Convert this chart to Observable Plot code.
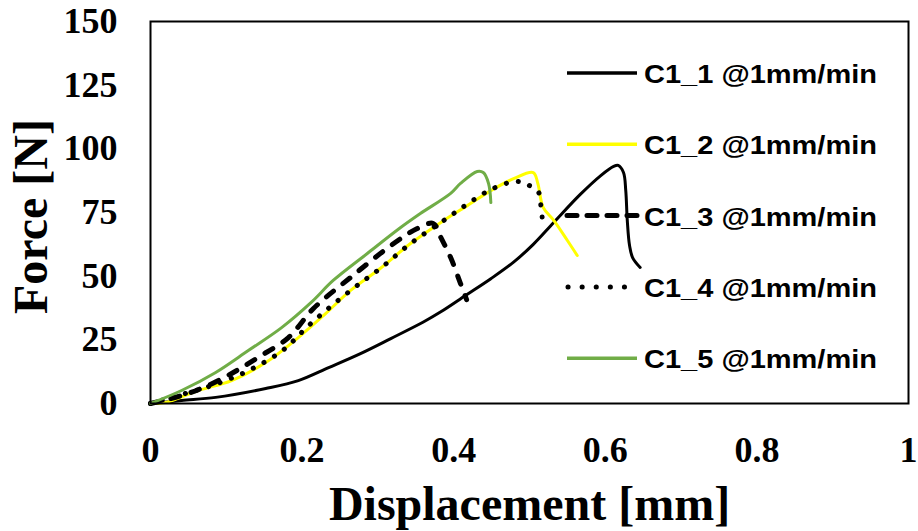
<!DOCTYPE html>
<html>
<head>
<meta charset="utf-8">
<script src="https://cdn.jsdelivr.net/npm/d3@7"></script>
<script src="https://cdn.jsdelivr.net/npm/@observablehq/plot@0.6"></script>
<style>
  body { margin: 0; background: #fff; }
  #wrap { position: relative; width: 918px; height: 531px; }
  #legend { position: absolute; left: 0; top: 0; pointer-events: none; }
</style>
</head>
<body>
<div id="wrap"></div>
<script>
// ---- data ----
const seriesNames = ["C1_1 @1mm/min", "C1_2 @1mm/min", "C1_3 @1mm/min", "C1_4 @1mm/min", "C1_5 @1mm/min"];

const c1_1_x = [0, 0.041, 0.086, 0.152, 0.195, 0.235, 0.277, 0.317, 0.360, 0.383, 0.416, 0.449, 0.479, 0.505, 0.532, 0.567, 0.594, 0.611, 0.617, 0.624, 0.627, 0.629, 0.632, 0.636, 0.646];
const c1_1_y = [0, 1.2, 2.4, 5.9, 9.0, 14.1, 19.6, 25.5, 32.0, 36.0, 42.5, 49.0, 55.5, 62.5, 71.1, 82.1, 89.5, 93.1, 93.5, 90.7, 83.6, 71.9, 62.0, 57.3, 53.4];

const c1_2_x = [0, 0.020, 0.063, 0.107, 0.152, 0.195, 0.231, 0.264, 0.303, 0.343, 0.387, 0.418, 0.449, 0.479, 0.505, 0.511, 0.518, 0.532, 0.550, 0.563];
const c1_2_y = [0, 0.4, 5.1, 9.0, 16.1, 25.9, 35.3, 44.4, 53.0, 62.8, 71.9, 77.7, 83.6, 88.3, 90.7, 86.4, 77.0, 71.9, 64.0, 58.1];

const c1_3_x = [0, 0.041, 0.073, 0.107, 0.142, 0.182, 0.215, 0.264, 0.317, 0.352, 0.373, 0.383, 0.396, 0.409, 0.417];
const c1_3_y = [0, 3.1, 6.7, 11.8, 18.1, 25.9, 37.3, 49.5, 62.0, 68.7, 70.7, 65.2, 57.3, 47.1, 40.8];

const c1_4_x = [0, 0.041, 0.085, 0.130, 0.175, 0.210, 0.264, 0.303, 0.343, 0.387, 0.417, 0.449, 0.482, 0.497, 0.512, 0.515, 0.517];
const c1_4_y = [0, 3.5, 7.5, 13.0, 21.0, 31.0, 44.4, 53.0, 62.8, 71.9, 78.1, 84.0, 87.2, 86.0, 82.9, 77.7, 72.2];

const c1_5_x = [0, 0.041, 0.086, 0.129, 0.173, 0.212, 0.241, 0.286, 0.330, 0.356, 0.396, 0.409, 0.431, 0.439, 0.446, 0.449];
const c1_5_y = [0, 5.1, 12.2, 20.8, 29.8, 39.7, 48.3, 58.9, 69.1, 74.6, 82.5, 86.4, 91.1, 90.7, 86.4, 78.9];

const xTicks = [0, 0.2, 0.4, 0.6, 0.8, 1];
const yTicks = [0, 25, 50, 75, 100, 125, 150];
const xLabel = "Displacement [mm]";
const yLabel = "Force [N]";

// ---- styles ----
const seriesX = [c1_1_x, c1_2_x, c1_3_x, c1_4_x, c1_5_x];
const seriesY = [c1_1_y, c1_2_y, c1_3_y, c1_4_y, c1_5_y];
const styles = [
  { stroke: "#000000", strokeWidth: 3, dash: null, cap: "round" },
  { stroke: "#FFFF00", strokeWidth: 3, dash: null, cap: "round" },
  { stroke: "#000000", strokeWidth: 5, dash: "9 12", cap: "round" },
  { stroke: "#000000", strokeWidth: 5, dash: "0.1 12", cap: "round" },
  { stroke: "#70AD47", strokeWidth: 3, dash: null, cap: "round" }
];

const tables = seriesX.map((xs, i) => xs.map((x, j) => ({ x, y: seriesY[i][j] })));

const lineMarks = tables.map((t, i) => Plot.line(t, {
  x: "x", y: "y",
  stroke: styles[i].stroke,
  strokeWidth: styles[i].strokeWidth,
  strokeDasharray: styles[i].dash || undefined,
  strokeLinecap: styles[i].cap,
  strokeLinejoin: "round",
  curve: "catmull-rom"
}));

const chart = Plot.plot({
  width: 918,
  height: 531,
  marginLeft: 150,
  marginRight: 10,
  marginTop: 21,
  marginBottom: 128,
  style: {
    background: "white",
    fontFamily: "'Liberation Serif', 'Times New Roman', serif",
    fontSize: "36px",
    fontWeight: "bold",
    color: "black",
    overflow: "visible"
  },
  x: { domain: [0, 1] },
  y: { domain: [0, 150] },
  marks: [
    Plot.axisX(xTicks, { tickSize: 0, tickPadding: 33, fontSize: 36, tickFormat: d => String(+d.toFixed(1)), label: null }),
    Plot.axisY(yTicks, { tickSize: 0, tickPadding: 33, fontSize: 36, tickFormat: d => String(d), label: null }),
    ...lineMarks,
    Plot.frame({ stroke: "black", strokeWidth: 2 }),
    Plot.text([xLabel], { frameAnchor: "bottom", dy: 101, text: d => d, textAnchor: "middle", lineAnchor: "middle", fontSize: 48, fontWeight: "bold" }),
    Plot.text([yLabel], { frameAnchor: "left", dx: -119, dy: 4, text: d => d, rotate: -90, textAnchor: "middle", lineAnchor: "middle", fontSize: 48, fontWeight: "bold" })
  ]
});

const wrap = document.getElementById("wrap");
wrap.appendChild(chart);

// ---- legend overlay ----
const leg = d3.select(wrap).append("svg")
  .attr("id", "legend")
  .attr("width", 918)
  .attr("height", 531);

const rowY = i => 73 + i * 71.3;
seriesNames.forEach((name, i) => {
  const s = styles[i];
  const g = leg.append("g");
  const ln = g.append("line")
    .attr("x1", i === 3 ? 568 : 567).attr("x2", i === 3 ? 626 : 637)
    .attr("y1", rowY(i)).attr("y2", rowY(i))
    .attr("stroke", s.stroke)
    .attr("stroke-width", i === 2 ? 5 : (i === 3 ? 5 : 3.5))
    .attr("stroke-linecap", i === 3 ? "round" : (i === 2 ? "round" : "butt"));
  if (i === 2) ln.attr("stroke-dasharray", "10 10");
  if (i === 3) ln.attr("stroke-dasharray", "0.1 14");
  g.append("text")
    .attr("x", 644)
    .attr("y", rowY(i) + 10)
    .attr("font-family", "'Liberation Sans', Arial, sans-serif")
    .attr("font-weight", "bold")
    .attr("font-size", 26)
    .attr("textLength", 233)
    .attr("lengthAdjust", "spacingAndGlyphs")
    .attr("fill", "black")
    .text(name);
});
</script>
</body>
</html>
